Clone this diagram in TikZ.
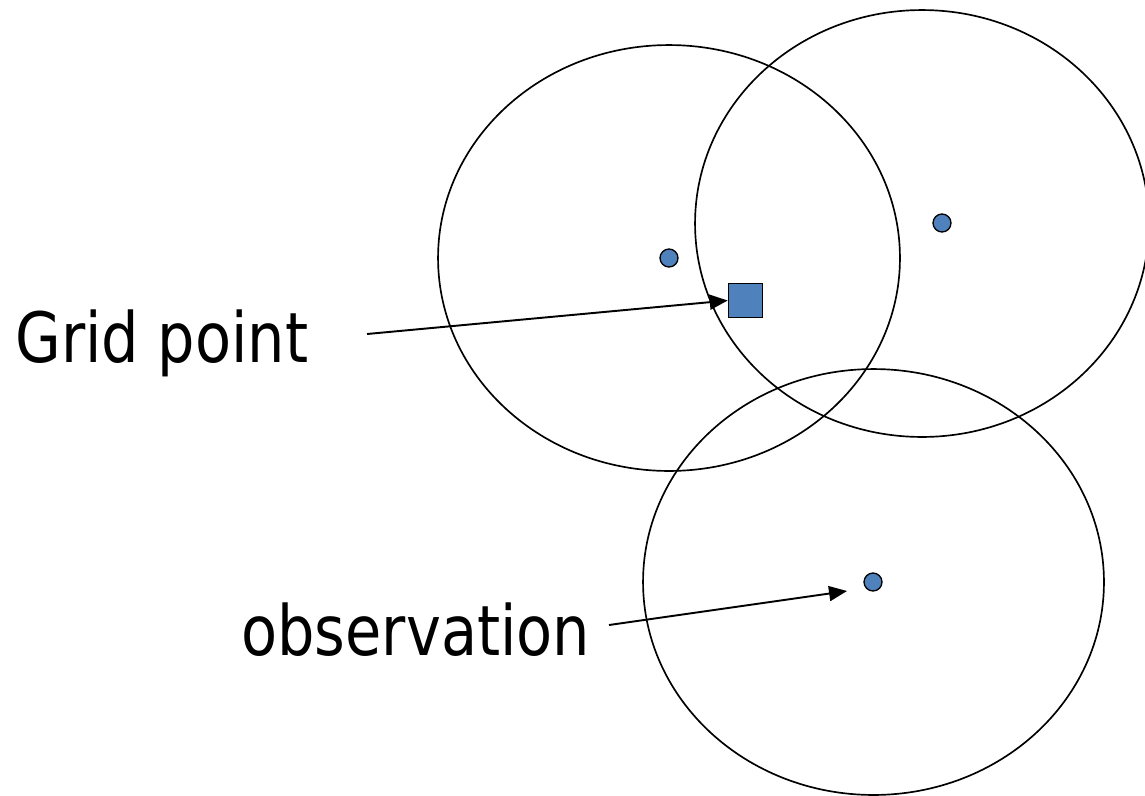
\documentclass[tikz,border=0pt]{standalone}
\usepackage{fontspec}
\usepackage{tikz}
\usepackage{xcolor}
\usetikzlibrary{arrows.meta,positioning,calc}
\newfontfamily\labelfont[FakeStretch=0.85]{DejaVu Sans}
\definecolor{ink}{HTML}{000000}
\definecolor{dotblue}{HTML}{4F81BD}
\tikzset{
  radius/.style={draw=ink,line width=0.95pt},
  obsdot/.style={circle,draw=ink,fill=dotblue,line width=0.75pt,
                 inner sep=0pt,minimum size=0.36cm},
  gridbox/.style={rectangle,draw=ink,fill=dotblue,line width=0.9pt,
                  inner sep=0pt,minimum size=0.68cm},
  biglabel/.style={font=\labelfont\fontsize{39.5}{46}\selectfont,
                   inner sep=0pt,anchor=base west},
  flowarr/.style={-{Triangle[length=0.36cm,width=0.3cm]},line width=1.1pt,color=ink}
}
\begin{document}
\begin{tikzpicture}[x=0.02cm,y=-0.02cm]
  \useasboundingbox (0,0) rectangle (1145,795);
  % observations and their influence radii
  \node[obsdot] (obs1) at (669,258) {};
  \node[obsdot] (obs2) at (942,223) {};
  \node[obsdot] (obs3) at (873,582) {};
  \draw[radius] (669,258) ellipse [x radius=4.62cm, y radius=4.26cm];
  \draw[radius] (922,223.5) ellipse [x radius=4.54cm, y radius=4.27cm];
  \draw[radius] (873.5,582) ellipse [x radius=4.61cm, y radius=4.26cm];
  % grid point
  \node[gridbox] (gridpt) at (745.5,300.5) {};
  % labels
  \node[biglabel] (gridlbl) at (15,362) {Grid point};
  \node[biglabel] (obslbl) at (241,655) {observation};
  \coordinate (gridtail) at (367,334);
  \coordinate (obstail) at (609,625);
  \coordinate (obstip) at (847,591);
  \draw[flowarr] (gridtail) -- (gridpt.west);
  \draw[flowarr] (obstail) -- (obstip);
\end{tikzpicture}
\end{document}
